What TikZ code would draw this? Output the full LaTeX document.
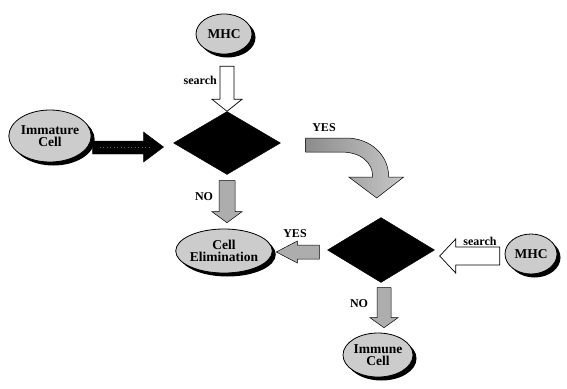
\documentclass[tikz,border=0pt]{standalone}
\usepackage{fontspec}
\setmainfont{Liberation Serif}
\usetikzlibrary{shapes.geometric,shadows,calc}
\tikzset{
  cell/.style={ellipse,draw=black,line width=0.8pt,fill=black!20,inner sep=0pt,
    align=center,font=\bfseries\fontsize{13.5}{12.5}\selectfont,
    drop shadow={shadow xshift=3.5pt,shadow yshift=-3.5pt,opacity=1,fill=black}},
  decision/.style={diamond,fill=black,draw=black,inner sep=0pt},
  lbl/.style={font=\bfseries\fontsize{12}{12}\selectfont,inner sep=0pt},
  hollowarrow/.style={draw=black,line width=0.7pt,fill=white},
  grayarrow/.style={draw=black,line width=0.5pt,fill=black!32},
  darkarrow/.style={draw=black,fill=black},
}
\begin{document}
\begin{tikzpicture}[x=1pt,y=-1pt]
\useasboundingbox (0,0) rectangle (567,388);
% nodes
\node[cell,minimum width=56pt,minimum height=40pt] (mhc1) at (224,34) {MHC};
\node[cell,minimum width=76pt,minimum height=52pt] (imm) at (50,136) {Immature\\Cell};
\node[decision,minimum width=107pt,minimum height=63pt] (d1) at (227,143) {};
\node[cell,minimum width=84pt,minimum height=44pt] (elim) at (224,251) {Cell\\Elimination};
\node[decision,minimum width=107pt,minimum height=65pt] (d2) at (381,250) {};
\node[cell,minimum width=52pt,minimum height=40pt] (mhc2) at (531,254) {MHC};
\node[cell,minimum width=70pt,minimum height=44pt] (immune) at (378,355) {Immune\\Cell};
% labels
\node[lbl,anchor=east] (s1) at (217,80) {search};
\node[lbl] (y1) at (324,128) {YES};
\node[lbl] (n1) at (204,197) {NO};
\node[lbl] (y2) at (295,234) {YES};
\node[lbl] (s2) at (480,241) {search};
\node[lbl] (n2) at (359,304) {NO};
% search arrow MHC -> d1
\path[hollowarrow] ($(d1.north)+(-7,-45)$) -- ++(14,0) -- ++(0,33) -- ++(8,0)
  -- ++(-15,12) -- ++(-15,-12) -- ++(8,0) -- cycle;
% dark arrow Immature -> d1
\path[darkarrow] ($(imm.east)+(1,5)$) -- ++(51,0) -- ++(0,-9) -- ++(20,15)
  -- ++(-20,15) -- ++(0,-8) -- ++(-51,0) -- cycle;
\draw[black!60,line width=1.2pt,dash pattern=on 1pt off 2.5pt] ($(imm.east)+(8,11.5)$) -- ++(50,0);
% NO arrow d1 -> elim
\path[grayarrow] ($(d1.south)+(-8,6)$) -- ++(16,0) -- ++(0,31) -- ++(7,0)
  -- ++(-15,11) -- ++(-15,-11) -- ++(7,0) -- cycle;
% curved YES arrow d1 -> d2
\path[draw=black,line width=0.5pt,left color=black!45,right color=black!22]
  ($(d1.east)+(25,-5)$) -- ++(40,0) .. controls +(25,0) and +(0,-22) .. ++(43,39)
  -- ++(15,0) -- ++(-27,21) -- ++(-28,-21) -- ++(24,0)
  .. controls +(0,-15) and +(20,0) .. ++(-32,-25) -- ++(-35,0) -- cycle;
% YES arrow d2 -> elim
\path[grayarrow] ($(d2.west)+(-8,-5)$) -- ++(-22,0) -- ++(0,-4) -- ++(-21,11)
  -- ++(21,11) -- ++(0,-4) -- ++(22,0) -- cycle;
% search arrow MHC2 -> d2
\path[hollowarrow] ($(d2.east)+(5,6)$) -- ++(16,-17) -- ++(0,8) -- ++(44,0)
  -- ++(0,18) -- ++(-44,0) -- ++(0,8) -- cycle;
% NO arrow d2 -> immune
\path[grayarrow] ($(d2.south)+(-4,5)$) -- ++(14,0) -- ++(0,30) -- ++(7,0)
  -- ++(-14,10) -- ++(-14,-10) -- ++(7,0) -- cycle;
\end{tikzpicture}
\end{document}
